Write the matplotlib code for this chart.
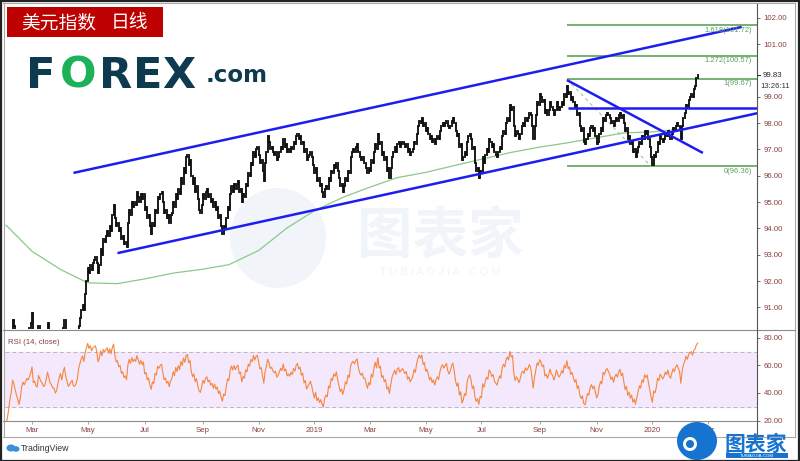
import numpy as np
import pandas as pd
import matplotlib
matplotlib.use("Agg")
import matplotlib.pyplot as plt
from matplotlib.patches import Rectangle, Ellipse
from matplotlib.lines import Line2D

plt.rcParams['font.family'] = ['Liberation Sans', 'Noto Sans CJK SC', 'DejaVu Sans']

# ---------------- data ----------------
start_date = '2018-01-02'   # first business day of the series
closes = [
    92.1, 91.9, 92.2, 92.4, 92.3, 92.5, 92.0, 91.7, 91.3, 90.9,
    90.6, 90.5, 90.3, 90.6, 90.2, 89.9, 89.4, 89.0, 89.3, 89.1,
    89.0, 89.1, 88.7, 88.9, 89.2, 89.6, 89.9, 90.5, 90.3, 89.9,
    89.5, 89.2, 88.7, 89.0, 89.6, 89.9, 89.7, 89.9, 90.1, 90.0,
    90.2, 90.4, 90.8, 89.9, 90.0, 89.7, 89.6, 90.3, 90.1, 89.9,
    89.8, 89.6, 89.7, 90.0, 90.4, 90.1, 89.8, 89.7, 89.5, 89.5,
    89.2, 89.3, 89.6, 89.9, 90.1, 89.8, 90.2, 90.5, 90.1, 89.8,
    89.5, 89.6, 89.7, 89.8, 89.5, 89.5, 89.6, 89.8, 90.3, 90.6,
    90.9, 91.1, 90.9, 91.5, 92.0, 92.5, 92.3, 92.6, 92.4, 92.7,
    92.8, 92.9, 92.7, 92.3, 92.6, 93.2, 93.0, 93.6, 93.5, 93.7,
    93.9, 93.7, 94.1, 93.9, 94.5, 94.9, 94.4, 94.1, 94.2, 93.9,
    94.0, 93.6, 93.7, 93.4, 93.5, 93.3, 94.2, 94.7, 94.5, 95.0,
    94.8, 95.0, 94.9, 95.4, 95.2, 95.0, 95.3, 95.1, 95.3, 94.7,
    94.8, 94.4, 94.5, 94.1, 93.8, 94.2, 94.1, 94.7, 94.6, 95.2,
    95.1, 95.3, 95.4, 95.0, 94.6, 94.7, 94.4, 94.5, 94.2, 94.5,
    94.6, 95.0, 94.8, 95.3, 95.1, 95.5, 95.3, 95.9, 95.7, 96.3,
    96.1, 96.7, 96.8, 96.4, 96.6, 96.0, 95.7, 95.9, 95.4, 95.6,
    95.1, 94.7, 94.6, 94.9, 95.3, 95.1, 95.4, 95.5, 95.2, 95.3,
    95.0, 95.1, 94.8, 95.0, 94.7, 94.8, 94.4, 94.5, 94.1, 93.8,
    94.1, 94.0, 94.4, 94.8, 94.7, 95.3, 95.6, 95.4, 95.7, 95.5,
    95.7, 95.8, 95.4, 95.5, 95.0, 95.3, 95.2, 95.7, 95.6, 96.1,
    96.0, 96.5, 96.4, 96.9, 96.7, 97.0, 97.1, 96.8, 96.5, 96.6,
    96.2, 95.8, 96.5, 96.9, 97.5, 97.3, 97.0, 97.1, 96.9, 96.8,
    96.9, 96.6, 96.7, 96.9, 97.1, 97.0, 97.4, 97.1, 97.2, 96.9,
    97.0, 96.9, 97.1, 97.0, 97.3, 97.2, 97.5, 97.6, 97.4, 97.5,
    97.2, 97.3, 96.9, 97.0, 96.6, 96.7, 96.8, 96.9, 96.7, 96.4,
    96.1, 96.3, 95.8, 95.9, 95.6, 95.7, 95.4, 95.2, 95.5, 95.6,
    95.5, 95.9, 95.8, 96.2, 96.1, 96.4, 96.3, 96.5, 96.2, 95.9,
    95.6, 95.7, 95.4, 95.6, 95.9, 95.8, 96.2, 96.1, 96.7, 96.9,
    97.0, 96.9, 97.1, 97.2, 96.9, 96.7, 96.6, 96.7, 96.5, 96.5,
    96.3, 96.1, 96.3, 96.2, 96.6, 96.5, 96.9, 97.2, 97.0, 97.6,
    97.2, 97.3, 96.8, 96.9, 96.6, 96.7, 96.2, 96.3, 95.9, 96.3,
    96.7, 96.9, 97.1, 96.9, 97.2, 97.3, 97.1, 97.2, 97.3, 97.2,
    97.1, 97.2, 96.9, 97.0, 96.8, 96.9, 97.0, 97.3, 97.2, 97.6,
    97.9, 98.1, 98.0, 98.2, 97.9, 98.0, 97.7, 97.8, 97.6, 97.4,
    97.5, 97.3, 97.4, 97.2, 97.4, 97.5, 97.4, 97.7, 97.9, 98.0,
    97.9, 98.0, 98.1, 97.9, 97.8, 97.9, 98.1, 98.2, 98.0, 97.7,
    97.5, 97.6, 97.1, 97.2, 96.6, 96.7, 96.9, 96.8, 97.3, 97.5,
    97.6, 97.4, 97.0, 97.1, 96.5, 96.2, 96.3, 95.9, 96.2, 96.1,
    96.7, 96.5, 96.8, 97.0, 96.9, 97.4, 97.3, 97.1, 97.2, 96.9,
    96.8, 96.7, 96.9, 97.1, 97.0, 97.5, 97.7, 97.6, 98.0, 98.2,
    98.1, 98.7, 98.5, 98.6, 97.9, 97.5, 97.7, 97.6, 97.4, 97.6,
    97.9, 98.0, 97.9, 98.2, 98.1, 98.2, 98.4, 98.3, 97.9, 97.4,
    97.9, 98.3, 98.8, 98.7, 99.1, 99.0, 98.8, 98.9, 98.4, 98.5,
    98.3, 98.5, 98.8, 98.6, 98.5, 98.3, 98.5, 98.8, 98.6, 98.5,
    98.6, 98.8, 98.7, 99.1, 99.0, 99.4, 99.1, 99.2, 98.9, 99.0,
    98.8, 98.6, 98.7, 98.3, 98.4, 97.9, 97.7, 97.8, 97.3, 97.2,
    97.4, 97.6, 97.5, 97.8, 97.9, 97.7, 97.8, 97.5, 97.2, 97.3,
    97.6, 97.8, 97.7, 98.2, 98.1, 98.3, 98.4, 98.3, 98.2, 98.0,
    98.1, 97.9, 98.1, 98.2, 98.1, 98.3, 98.4, 98.2, 98.3, 98.0,
    97.7, 97.8, 97.4, 97.5, 97.2, 97.3, 96.9, 97.0, 96.7, 96.9,
    97.1, 97.3, 97.2, 97.5, 97.4, 97.7, 97.6, 97.7, 97.4, 97.1,
    96.7, 96.4, 96.8, 96.7, 96.9, 97.3, 97.2, 97.5, 97.4, 97.3,
    97.4, 97.6, 97.5, 97.7, 97.5, 97.4, 97.6, 97.8, 97.7, 97.9,
    98.0, 97.9, 97.8, 97.4, 97.9, 98.2, 98.4, 98.7, 98.6, 98.9,
    99.0, 99.1, 99.0, 99.3, 99.4, 99.7, 99.83,
]

# 200-day moving average at month starts
ma_dates = ['2018-02-01', '2018-03-01', '2018-04-02', '2018-05-01', '2018-06-01',
            '2018-07-02', '2018-08-01', '2018-09-03', '2018-10-01', '2018-11-01',
            '2018-12-03', '2019-01-01', '2019-02-01', '2019-03-01', '2019-04-01',
            '2019-05-01', '2019-06-03', '2019-07-01', '2019-08-01', '2019-09-02',
            '2019-10-01', '2019-11-01', '2019-12-02', '2020-01-01', '2020-02-03',
            '2020-02-19']
ma_values = [94.12, 93.13, 92.44, 91.93, 91.90, 92.08, 92.30, 92.45, 92.62, 93.16,
             94.02, 94.67, 95.20, 95.57, 95.93, 96.13, 96.40, 96.63, 96.89, 97.09,
             97.25, 97.45, 97.63, 97.67, 97.78, 97.85]

# trend lines drawn on the chart: (start date, start price, end date, end price)
trend_lines = [
    ('2018-04-16', 96.11, '2020-04-07', 101.66),   # upper channel
    ('2018-06-01', 93.06, '2020-04-24', 98.39),    # lower channel
    ('2019-10-02', 98.58, '2020-04-24', 98.58),    # horizontal
    ('2019-10-01', 99.64, '2020-02-25', 96.87),    # falling line
]
fib_high_date, fib_high = '2019-10-01', 99.67
fib_low_date, fib_low = '2019-12-31', 96.36
fib_ratios = [0, 1, 1.272, 1.618]

price_ticks = [91, 92, 93, 94, 95, 96, 97, 98, 99, 101, 102]
rsi_ticks = [20, 40, 60, 80]
tick_dates = ['2018-03-01', '2018-05-01', '2018-07-02', '2018-09-03', '2018-11-01',
              '2019-01-01', '2019-03-01', '2019-05-01', '2019-07-01', '2019-09-02',
              '2019-11-01', '2020-01-01', '2020-03-02']
tick_labels = ['Mar', 'May', 'Jul', 'Sep', 'Nov', '2019', 'Mar', 'May', 'Jul', 'Sep',
               'Nov', '2020', 'Mar']
last_price_label = '99.83'
countdown_label = '13:26:11'

# ---------------- helpers ----------------
W, H = 800, 461
fig = plt.figure(figsize=(W / 100, H / 100), dpi=100)

def fx(x):
    return x / W

def fy(y):
    return 1 - y / H

def blob(x, y, rx, ry, color, z):
    fig.patches.append(Ellipse((fx(x), fy(y)), 2 * rx / W, 2 * ry / H,
                               transform=fig.transFigure, facecolor=color,
                               edgecolor='none', zorder=z))

dates = pd.bdate_range(start_date, periods=700)

def pos(d):
    return float(dates.searchsorted(pd.Timestamp(d)))

c = np.array(closes)
n = len(c)
xi = np.arange(n)
o = np.r_[c[0], c[:-1]]
lo = np.minimum(o, c)
hi = np.maximum(o, c)

s = pd.Series(c)
d = s.diff()
up = d.clip(lower=0)
dn = (-d).clip(lower=0)
au = up.ewm(alpha=1 / 14, adjust=False).mean()
ad = dn.ewm(alpha=1 / 14, adjust=False).mean()
rsi = 100 - 100 / (1 + au / ad)

# ---------------- watermark (behind) ----------------
wm = '#f1f5fa'
blob(278, 238, 48, 50, wm, -5)
fig.text(fx(440), fy(237), '图表家', fontsize=40, color=wm, ha='center', va='center',
         family=['Noto Sans CJK SC'], fontweight='bold', zorder=-4)
fig.text(fx(440), fy(272), 'T U B I A O J I A . C O M', fontsize=8, color=wm,
         ha='center', va='center', zorder=-4)

# ---------------- axes ----------------
XL = (21.15, 601.8)
ax = fig.add_axes([fx(5), fy(329), 752 / W, 325 / H])
ax2 = fig.add_axes([fx(5), fy(420.5), 752 / W, 90.5 / H], sharex=ax)
for a in (ax, ax2):
    a.set_facecolor('none')
    for sp in a.spines.values():
        sp.set_visible(False)

ax.set_xlim(*XL)
ax.set_ylim(90.175, 102.532)

ax.vlines(xi, lo, hi, color='#111111', lw=1.35, capstyle='projecting', zorder=3)
ax.plot([pos(dd) for dd in ma_dates], ma_values, color='#8cc88c', lw=0.9, zorder=2)

for d0, p0, d1, p1 in trend_lines:
    ax.plot([pos(d0), pos(d1)], [p0, p1], color='#1d1df2', lw=1.8, zorder=4,
            solid_capstyle='butt')

fx0 = pos(fib_high_date)
rng = fib_high - fib_low
for r in fib_ratios:
    lvl = fib_low + r * rng
    ax.hlines(lvl, fx0, XL[1], color='#6aaa6a', lw=1.3, zorder=2)
    lab = ('%g' % r) + '(%.2f)' % lvl
    ax.annotate(lab, (598, lvl), xytext=(0, -3.4), textcoords='offset points',
                ha='right', va='center', fontsize=5.5, color='#5f9f5f', zorder=5)
ax.plot([pos(fib_high_date), pos(fib_low_date)], [fib_high, fib_low],
        color='#8fd08f', lw=0.8, ls=(0, (3, 3)), zorder=2)

ax.yaxis.tick_right()
ax.set_yticks(price_ticks)
ax.set_yticklabels(['%.2f' % t for t in price_ticks])
ax.tick_params(axis='y', length=2.2, width=0.6, color='#555555', pad=2.5,
               labelsize=5.6, labelcolor='#8b3f3f')
ax.tick_params(axis='x', length=0, labelbottom=False)

# RSI panel
ax2.set_ylim(20, 85.8)
ax2.axhspan(30, 70, color='#f4e8fc', zorder=0)
ax2.axhline(70, color='#bcb3c4', lw=0.7, ls=(0, (4, 3)), zorder=1)
ax2.axhline(30, color='#bcb3c4', lw=0.7, ls=(0, (4, 3)), zorder=1)
ax2.plot(xi, rsi, color='#f5873f', lw=0.8, zorder=3)
ax2.yaxis.tick_right()
ax2.set_yticks(rsi_ticks)
ax2.set_yticklabels(['%.2f' % t for t in rsi_ticks])
ax2.tick_params(axis='y', length=2.2, width=0.6, color='#555555', pad=2.5,
                labelsize=5.6, labelcolor='#8b3f3f')
ax2.set_xticks([pos(t) for t in tick_dates])
ax2.set_xticklabels(tick_labels)
ax2.tick_params(axis='x', length=2, width=0.6, color='#999999', pad=3,
                labelsize=5.6, labelcolor='#8b3f3f')
ax2.text(0.004, 0.86, 'RSI (14, close)', transform=ax2.transAxes, fontsize=5.6,
         color='#8b3f3f', ha='left', va='center')

# ---------------- frame lines ----------------
def fline(x0, y0, x1, y1, color, lw):
    fig.add_artist(Line2D([fx(x0), fx(x1)], [fy(y0), fy(y1)], color=color, lw=lw,
                          transform=fig.transFigure, zorder=6))

fline(3, 3.5, 795, 3.5, '#a8a8a8', 0.8)
fline(3.5, 3, 3.5, 437, '#a8a8a8', 0.8)
fline(794.5, 3, 794.5, 437, '#a8a8a8', 0.8)
fline(3, 437, 795, 437, '#a8a8a8', 0.8)
fline(3, 329.5, 795, 329.5, '#8c8c8c', 0.8)
fline(3, 420.5, 757, 420.5, '#8c8c8c', 0.8)
fline(757, 4, 757, 437, '#555555', 0.8)
fig.patches.append(Rectangle((0.001, 0.001), 0.998, 0.997, transform=fig.transFigure,
                             facecolor='none', edgecolor='#222222', lw=1.6, zorder=10))

# last price label
fline(757, 75, 760, 75, '#333333', 0.8)
fig.text(fx(763), fy(75.5), last_price_label, fontsize=5.6, color='#222222',
         ha='left', va='center', zorder=7)
fig.text(fx(760), fy(86.5), countdown_label, fontsize=5.6, color='#333333',
         ha='left', va='center', zorder=7)

# ---------------- title / logos ----------------
fig.patches.append(Rectangle((fx(7), fy(37)), 156 / W, 30 / H, transform=fig.transFigure,
                             facecolor='#bd0000', edgecolor='none', zorder=7))
fig.text(fx(21), fy(22.5), '美元指数', fontsize=13.5, color='white', ha='left',
         va='center', family=['Noto Sans CJK SC'], zorder=8)
fig.text(fx(111), fy(22.5), '日线', fontsize=13.5, color='white', ha='left',
         va='center', family=['Noto Sans CJK SC'], zorder=8)

navy = '#0e3a50'
green = '#1db25a'
for ch, xp, col in [('F', 26, navy), ('O', 60, green), ('R', 99, navy),
                    ('E', 133, navy), ('X', 162, navy)]:
    fig.text(fx(xp), fy(88), ch, fontsize=31, color=col, ha='left', va='baseline',
             family=['DejaVu Sans'], fontweight='bold', zorder=8)
fig.text(fx(206), fy(82), '.com', fontsize=16.5, color=navy, ha='left', va='baseline',
         family=['DejaVu Sans'], fontweight='bold', zorder=8)

# TradingView logo
blob(11, 448, 4.5, 3.5, '#3b8fd9', 8)
blob(16, 449, 3.5, 2.8, '#3b8fd9', 8)
fig.text(fx(21), fy(448.5), 'TradingView', fontsize=6.3, color='#333333', ha='left',
         va='center', zorder=8)

# 图表家 logo bottom-right
blue = '#1673d0'
blob(697, 441, 20, 19, blue, 8)
blob(690, 444, 7, 7, 'white', 9)
blob(690, 444, 4, 4, blue, 10)
fig.text(fx(756), fy(444), '图表家', fontsize=15, color=blue, ha='center', va='center',
         family=['Noto Sans CJK SC'], fontweight='bold', zorder=9)
fig.patches.append(Rectangle((fx(726), fy(458)), 62 / W, 5 / H, transform=fig.transFigure,
                             facecolor=blue, edgecolor='none', zorder=9))
fig.text(fx(757), fy(455.5), 'TUBIAOJIA.COM', fontsize=3.2, color='white', ha='center',
         va='center', zorder=10)

fig.savefig('out.png', dpi=100)
